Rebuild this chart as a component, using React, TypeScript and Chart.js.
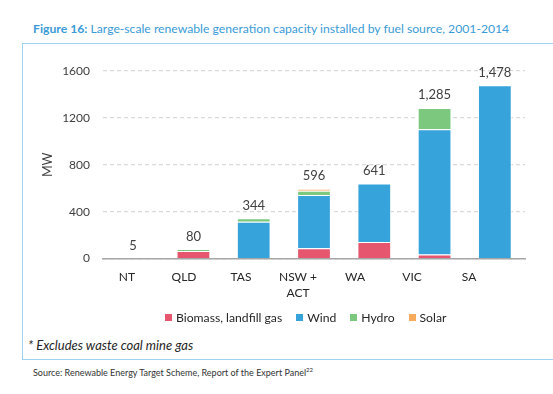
import React, { useEffect, useRef } from "react";
import { Chart, registerables } from "chart.js";
Chart.register(...registerables);

const categories: (string | string[])[] = ["NT", "QLD", "TAS", ["NSW +", "ACT"], "WA", "VIC", "SA"];
const biomass = [5, 65, 0, 88, 142, 35, 0];
const wind = [0, 0, 314, 455, 499, 1069, 1478];
const hydro = [0, 15, 30, 35, 0, 181, 0];
const solar = [0, 0, 0, 18, 0, 0, 0];
const totals = [5, 80, 344, 596, 641, 1285, 1478];
const seriesNames = ["Biomass, landfill gas", "Wind", "Hydro", "Solar"];
const seriesColors = ["#E6566F", "#36A3DB", "#7DC87F", "#F8AA5C"];
const yMax = 1600;
const yStep = 400;

const FONT = "Lato, 'Open Sans', sans-serif";

export default function App() {
  const ref = useRef<HTMLCanvasElement>(null);
  useEffect(() => {
    const ctx = ref.current!;
    const seriesData = [biomass, wind, hydro, solar];
    const totalsPlugin = {
      id: "totals",
      afterDatasetsDraw(chart: any) {
        const c = chart.ctx;
        const xs = chart.scales.x;
        const ys = chart.scales.y;
        c.save();
        c.font = `13px ${FONT}`;
        c.fillStyle = "#404040";
        c.textAlign = "center";
        c.textBaseline = "alphabetic";
        totals.forEach((t, i) => {
          const x = xs.getPixelForValue(i);
          const y = ys.getPixelForValue(t);
          c.fillText(t.toLocaleString("en-US"), x, y - 8.5);
        });
        c.restore();
      },
    };
    const chart = new Chart(ctx, {
      type: "bar",
      data: {
        labels: categories as any,
        datasets: seriesNames.map((name, k) => ({
          label: name,
          data: seriesData[k],
          backgroundColor: seriesColors[k],
          borderColor: "#ffffff",
          borderWidth: 1,
          xAxisID: "x",
          yAxisID: "y",
        })),
      },
      options: {
        responsive: false,
        animation: false,
        layout: { padding: { left: 40, right: 28, top: 71, bottom: 10 } },
        plugins: { legend: { display: false }, tooltip: { enabled: false } },
        datasets: { bar: { categoryPercentage: 1, barPercentage: 0.56 } },
        scales: {
          x: {
            type: "category",
            stacked: true,
            offset: true,
            grid: { display: false, drawTicks: false },
            ticks: { display: false },
            border: { display: true, color: "#A6A6A6", width: 1.5 },
          },
          x2: {
            type: "linear",
            position: "bottom",
            offset: false,
            bounds: "data",
            min: -0.421,
            max: 6.982,
            grid: { display: false, drawTicks: false, offset: false },
            border: { display: false },
            afterBuildTicks: (scale: any) => {
              scale.ticks = categories.map((_, i) => ({ value: i }));
            },
            afterFit: (scale: any) => {
              scale.paddingLeft = 0;
              scale.paddingRight = 0;
            },
            ticks: {
              autoSkip: false,
              maxRotation: 0,
              padding: 10,
              color: "#262626",
              font: { family: FONT, size: 12, lineHeight: 1.35 },
              callback: (v: any) => categories[Math.round(Number(v))] as any,
            },
          },
          y: {
            stacked: true,
            min: 0,
            max: yMax,
            afterFit: (scale: any) => {
              scale.width = 63;
            },
            ticks: {
              stepSize: yStep,
              padding: 13,
              color: "#404040",
              font: { family: FONT, size: 12 },
              callback: (v: any) => String(v),
            },
            grid: {
              color: "#D9D9D9",
              lineWidth: 1.3,
              drawTicks: false,
            },
            border: { display: false, dash: [4, 3] },
            title: {
              display: true,
              text: "MW",
              color: "#404040",
              font: { family: FONT, size: 12.5 },
              padding: { top: 0, bottom: 8.5 },
            },
          },
        },
      },
      plugins: [totalsPlugin],
    });
    return () => chart.destroy();
  }, []);

  return (
    <div style={{ position: "absolute", left: 0, top: 0, width: 553, height: 394, overflow: "hidden", background: "#fff", fontFamily: FONT }}>
      <div style={{ position: "absolute", left: 33, top: 21, fontSize: 12.2, color: "#3A9BD7", whiteSpace: "nowrap" }}>
        <b>Figure 16:</b> Large-scale renewable generation capacity installed by fuel source, 2001-2014
      </div>
      <div style={{ position: "absolute", left: 22, top: 43, width: 560, height: 315, border: "1.5px solid #9DD3EF" }} />
      <canvas ref={ref} width={553} height={321} style={{ position: "absolute", left: 0, top: 0, width: 553, height: 321 }} />
      <div style={{ position: "absolute", left: 165, top: 310, display: "flex", alignItems: "center", fontSize: 12.2, color: "#262626", whiteSpace: "nowrap" }}>
        {seriesNames.map((n, k) => (
          <span key={n} style={{ display: "flex", alignItems: "center", marginRight: 14 }}>
            <span style={{ width: 7, height: 7, background: seriesColors[k], marginRight: 4, display: "inline-block" }} />
            {n}
          </span>
        ))}
      </div>
      <div style={{ position: "absolute", left: 28, top: 337, fontSize: 13, fontStyle: "italic", color: "#262626", whiteSpace: "nowrap" }}>
        * Excludes waste coal mine gas
      </div>
      <div style={{ position: "absolute", left: 33, top: 366, fontSize: 9, color: "#333", whiteSpace: "nowrap" }}>
        Source: Renewable Energy Target Scheme, Report of the Expert Panel<sup style={{ fontSize: 6 }}>22</sup>
      </div>
    </div>
  );
}
